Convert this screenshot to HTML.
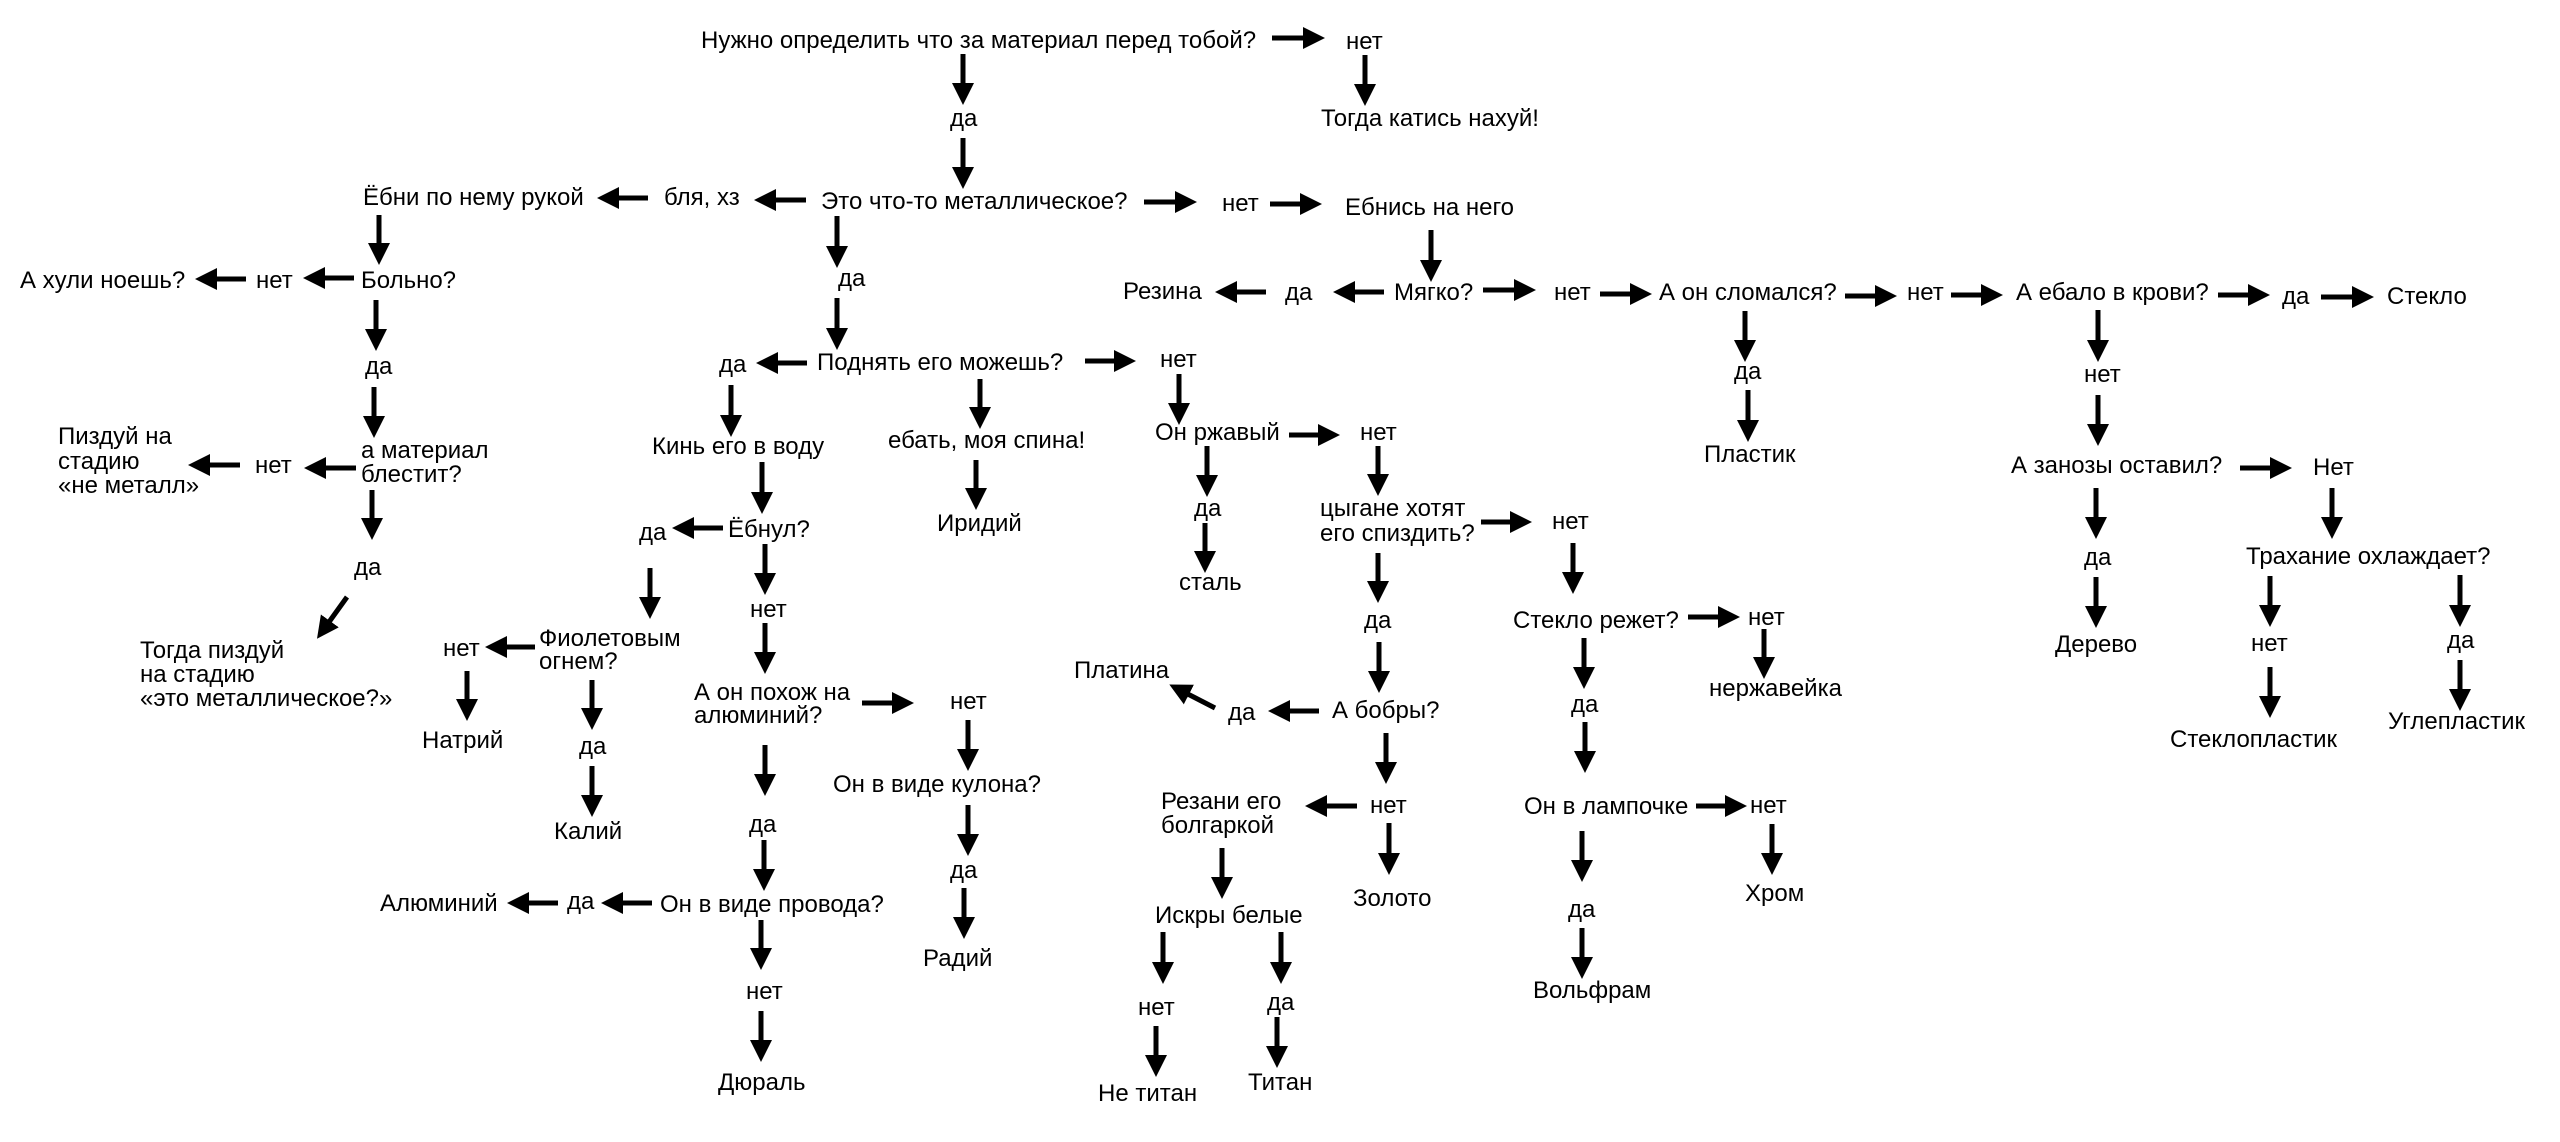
<!DOCTYPE html>
<html><head><meta charset="utf-8"><style>
html,body{margin:0;padding:0;background:#fff;}
svg{display:block;}
text{font-family:"Liberation Sans",Arial,sans-serif;font-size:24px;fill:#000;}
line{stroke:#000;stroke-width:5;}
</style></head><body>
<svg width="2560" height="1142" viewBox="0 0 2560 1142" xmlns="http://www.w3.org/2000/svg">
<defs><marker id="h" markerUnits="userSpaceOnUse" markerWidth="22" markerHeight="22" refX="10" refY="11" orient="auto"><path d="M0,0 L22,11 L0,22 z" fill="#000"/></marker></defs>
<rect width="2560" height="1142" fill="#fff"/>
<g marker-end="url(#h)">
<line x1="1272" y1="38" x2="1313" y2="38"/>
<line x1="1365" y1="55" x2="1365" y2="94"/>
<line x1="963" y1="54" x2="963" y2="93"/>
<line x1="963" y1="138" x2="963" y2="177"/>
<line x1="806" y1="200" x2="766" y2="200"/>
<line x1="648" y1="198" x2="609" y2="198"/>
<line x1="1144" y1="202" x2="1185" y2="202"/>
<line x1="1270" y1="204" x2="1310" y2="204"/>
<line x1="1431" y1="230" x2="1431" y2="270"/>
<line x1="379" y1="215" x2="379" y2="253"/>
<line x1="354" y1="278" x2="315" y2="278"/>
<line x1="246" y1="279" x2="207" y2="279"/>
<line x1="376" y1="300" x2="376" y2="339"/>
<line x1="374" y1="387" x2="374" y2="426"/>
<line x1="356" y1="468" x2="316" y2="468"/>
<line x1="240" y1="465" x2="200" y2="465"/>
<line x1="372" y1="490" x2="372" y2="528"/>
<line x1="347" y1="597" x2="324" y2="629"/>
<line x1="837" y1="216" x2="837" y2="256"/>
<line x1="837" y1="298" x2="837" y2="338"/>
<line x1="807" y1="363" x2="768" y2="363"/>
<line x1="731" y1="385" x2="731" y2="425"/>
<line x1="762" y1="462" x2="762" y2="502"/>
<line x1="723" y1="528" x2="684" y2="528"/>
<line x1="765" y1="544" x2="765" y2="583"/>
<line x1="650" y1="568" x2="650" y2="607"/>
<line x1="765" y1="623" x2="765" y2="662"/>
<line x1="535" y1="647" x2="497" y2="647"/>
<line x1="467" y1="671" x2="467" y2="709"/>
<line x1="592" y1="680" x2="592" y2="718"/>
<line x1="592" y1="766" x2="592" y2="805"/>
<line x1="765" y1="745" x2="765" y2="784"/>
<line x1="764" y1="840" x2="764" y2="879"/>
<line x1="652" y1="903" x2="613" y2="903"/>
<line x1="558" y1="903" x2="519" y2="903"/>
<line x1="761" y1="920" x2="761" y2="958"/>
<line x1="761" y1="1011" x2="761" y2="1050"/>
<line x1="862" y1="703" x2="902" y2="703"/>
<line x1="968" y1="720" x2="968" y2="759"/>
<line x1="968" y1="805" x2="968" y2="844"/>
<line x1="964" y1="888" x2="964" y2="927"/>
<line x1="1085" y1="361" x2="1124" y2="361"/>
<line x1="1179" y1="374" x2="1179" y2="413"/>
<line x1="980" y1="379" x2="980" y2="417"/>
<line x1="976" y1="460" x2="976" y2="498"/>
<line x1="1289" y1="435" x2="1328" y2="435"/>
<line x1="1207" y1="446" x2="1207" y2="485"/>
<line x1="1205" y1="523" x2="1205" y2="561"/>
<line x1="1378" y1="446" x2="1378" y2="484"/>
<line x1="1481" y1="522" x2="1520" y2="522"/>
<line x1="1573" y1="543" x2="1573" y2="582"/>
<line x1="1378" y1="553" x2="1378" y2="591"/>
<line x1="1379" y1="642" x2="1379" y2="681"/>
<line x1="1319" y1="711" x2="1280" y2="711"/>
<line x1="1215" y1="708" x2="1180" y2="690"/>
<line x1="1386" y1="733" x2="1386" y2="772"/>
<line x1="1357" y1="806" x2="1317" y2="806"/>
<line x1="1389" y1="823" x2="1389" y2="863"/>
<line x1="1222" y1="848" x2="1222" y2="887"/>
<line x1="1163" y1="932" x2="1163" y2="972"/>
<line x1="1156" y1="1026" x2="1156" y2="1065"/>
<line x1="1281" y1="932" x2="1281" y2="972"/>
<line x1="1277" y1="1017" x2="1277" y2="1056"/>
<line x1="1384" y1="292" x2="1345" y2="292"/>
<line x1="1266" y1="292" x2="1227" y2="292"/>
<line x1="1483" y1="290" x2="1524" y2="290"/>
<line x1="1600" y1="294" x2="1640" y2="294"/>
<line x1="1845" y1="296" x2="1885" y2="296"/>
<line x1="1951" y1="295" x2="1991" y2="295"/>
<line x1="2218" y1="295" x2="2258" y2="295"/>
<line x1="2321" y1="297" x2="2362" y2="297"/>
<line x1="1745" y1="311" x2="1745" y2="350"/>
<line x1="1748" y1="390" x2="1748" y2="430"/>
<line x1="2098" y1="310" x2="2098" y2="350"/>
<line x1="2098" y1="395" x2="2098" y2="434"/>
<line x1="2240" y1="468" x2="2280" y2="468"/>
<line x1="2096" y1="488" x2="2096" y2="527"/>
<line x1="2332" y1="488" x2="2332" y2="527"/>
<line x1="2096" y1="577" x2="2096" y2="616"/>
<line x1="2270" y1="576" x2="2270" y2="615"/>
<line x1="2270" y1="667" x2="2270" y2="706"/>
<line x1="2460" y1="575" x2="2460" y2="615"/>
<line x1="2460" y1="660" x2="2460" y2="699"/>
<line x1="1688" y1="617" x2="1728" y2="617"/>
<line x1="1764" y1="629" x2="1764" y2="667"/>
<line x1="1696" y1="806" x2="1735" y2="806"/>
<line x1="1772" y1="824" x2="1772" y2="863"/>
<line x1="1584" y1="638" x2="1584" y2="677"/>
<line x1="1585" y1="722" x2="1585" y2="761"/>
<line x1="1582" y1="831" x2="1582" y2="870"/>
<line x1="1582" y1="928" x2="1582" y2="967"/>
</g>
<text x="701" y="48">Нужно определить что за материал перед тобой?</text>
<text x="1346" y="49">нет</text>
<text x="1321" y="126">Тогда катись нахуй!</text>
<text x="950" y="126">да</text>
<text x="821" y="209">Это что-то металлическое?</text>
<text x="664" y="205">бля, хз</text>
<text x="363" y="205">Ёбни по нему рукой</text>
<text x="1222" y="211">нет</text>
<text x="1345" y="215">Ебнись на него</text>
<text x="1394" y="300">Мягко?</text>
<text x="1285" y="300">да</text>
<text x="1123" y="299">Резина</text>
<text x="1554" y="300">нет</text>
<text x="1659" y="300">А он сломался?</text>
<text x="1907" y="300">нет</text>
<text x="2016" y="300">А ебало в крови?</text>
<text x="2282" y="304">да</text>
<text x="2387" y="304">Стекло</text>
<text x="1734" y="379">да</text>
<text x="1704" y="462">Пластик</text>
<text x="2084" y="382">нет</text>
<text x="2011" y="473">А занозы оставил?</text>
<text x="2313" y="475">Нет</text>
<text x="2084" y="565">да</text>
<text x="2246" y="564">Трахание охлаждает?</text>
<text x="2055" y="652">Дерево</text>
<text x="2251" y="651">нет</text>
<text x="2447" y="648">да</text>
<text x="2170" y="747">Стеклопластик</text>
<text x="2388" y="729">Углепластик</text>
<text x="361" y="288">Больно?</text>
<text x="256" y="288">нет</text>
<text x="20" y="288">А хули ноешь?</text>
<text x="365" y="374">да</text>
<text x="361" y="458">а материал<tspan x="361" y="482">блестит?</tspan></text>
<text x="255" y="473">нет</text>
<text x="58" y="444">Пиздуй на<tspan x="58" y="469">стадию</tspan><tspan x="58" y="493">«не металл»</tspan></text>
<text x="354" y="575">да</text>
<text x="140" y="658">Тогда пиздуй<tspan x="140" y="682">на стадию</tspan><tspan x="140" y="706">«это металлическое?»</tspan></text>
<text x="838" y="286">да</text>
<text x="817" y="370">Поднять его можешь?</text>
<text x="719" y="372">да</text>
<text x="652" y="454">Кинь его в воду</text>
<text x="728" y="537">Ёбнул?</text>
<text x="639" y="540">да</text>
<text x="750" y="617">нет</text>
<text x="539" y="646">Фиолетовым<tspan x="539" y="669">огнем?</tspan></text>
<text x="443" y="656">нет</text>
<text x="422" y="748">Натрий</text>
<text x="579" y="754">да</text>
<text x="554" y="839">Калий</text>
<text x="694" y="700">А он похож на<tspan x="694" y="723">алюминий?</tspan></text>
<text x="749" y="832">да</text>
<text x="660" y="912">Он в виде провода?</text>
<text x="567" y="909">да</text>
<text x="380" y="911">Алюминий</text>
<text x="746" y="999">нет</text>
<text x="718" y="1090">Дюраль</text>
<text x="950" y="709">нет</text>
<text x="833" y="792">Он в виде кулона?</text>
<text x="950" y="878">да</text>
<text x="923" y="966">Радий</text>
<text x="1160" y="367">нет</text>
<text x="888" y="448">ебать, моя спина!</text>
<text x="937" y="531">Иридий</text>
<text x="1155" y="440">Он ржавый</text>
<text x="1360" y="440">нет</text>
<text x="1194" y="516">да</text>
<text x="1179" y="590">сталь</text>
<text x="1320" y="516">цыгане хотят<tspan x="1320" y="541">его спиздить?</tspan></text>
<text x="1552" y="529">нет</text>
<text x="1364" y="628">да</text>
<text x="1332" y="718">А бобры?</text>
<text x="1228" y="720">да</text>
<text x="1074" y="678">Платина</text>
<text x="1370" y="813">нет</text>
<text x="1161" y="809">Резани его<tspan x="1161" y="833">болгаркой</tspan></text>
<text x="1353" y="906">Золото</text>
<text x="1155" y="923">Искры белые</text>
<text x="1138" y="1015">нет</text>
<text x="1098" y="1101">Не титан</text>
<text x="1267" y="1010">да</text>
<text x="1248" y="1090">Титан</text>
<text x="1513" y="628">Стекло режет?</text>
<text x="1748" y="625">нет</text>
<text x="1709" y="696">нержавейка</text>
<text x="1571" y="712">да</text>
<text x="1524" y="814">Он в лампочке</text>
<text x="1750" y="813">нет</text>
<text x="1745" y="901">Хром</text>
<text x="1568" y="917">да</text>
<text x="1533" y="998">Вольфрам</text>
</svg>
</body></html>
